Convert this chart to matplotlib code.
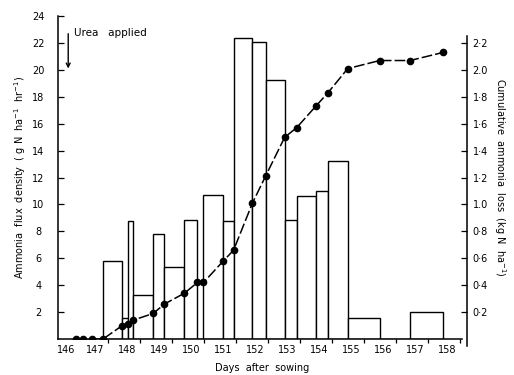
import matplotlib.pyplot as plt
import numpy as np

# sampling times (days after sowing) -- also the bar edges
sample_days = [146.5, 146.72, 147.0, 147.34, 147.94, 148.13, 148.28, 148.91,
               149.26, 149.88, 150.29, 150.48, 151.1, 151.42, 152.01, 152.42,
               153.02, 153.39, 153.99, 154.37, 154.99, 155.99, 156.94, 157.97]
# flux density for each interval between samples (g N ha-1 hr-1)
flux = [0, 0, 0, 5.8, 1.56, 8.8, 3.27, 7.8, 5.35, 8.85, 0, 10.7, 8.77,
        22.4, 22.1, 19.25, 8.85, 10.6, 11.0, 13.25, 1.56, 0, 2.0]
# cumulative loss at each sample (kg N ha-1)
cumulative = [0, 0, 0, 0, 0.10, 0.11, 0.14, 0.19, 0.26, 0.34, 0.42, 0.42,
              0.58, 0.66, 1.01, 1.21, 1.50, 1.57, 1.73, 1.83, 2.01, 2.07,
              2.07, 2.13]

day_labels = list(range(146, 159))
left_ticks = list(range(2, 25, 2))
right_ticks = [0.2, 0.4, 0.6, 0.8, 1.0, 1.2, 1.4, 1.6, 1.8, 2.0, 2.2]
right_labels = ['0·2', '0·4', '0·6', '0·8', '1.0', '1·2', '1·4', '1·6',
                '1·8', '2.0', '2·2']

plt.rcParams['font.family'] = 'DejaVu Sans'
plt.rcParams['font.size'] = 7

fig = plt.figure(figsize=(5.14, 3.75), dpi=100)
ax = fig.add_axes([0.1128, 0.096, 0.7958, 0.861])

edges = np.array(sample_days)
ax.bar(edges[:-1], flux, width=np.diff(edges), align='edge',
       facecolor='white', edgecolor='black', linewidth=1.0, zorder=2)

ax.set_xlim(145.93, 158.72)
ax.set_ylim(0, 24)

# labels sit between the day-boundary ticks
label_pos = [d + 0.1 for d in day_labels]
label_pos[0] = 146.2
ax.set_xticks(label_pos)
ax.set_xticklabels([str(d) for d in day_labels])
ax.set_xticks([d + 0.5 for d in range(147, 159)], minor=True)
ax.tick_params(axis='x', which='major', length=0, pad=4)
ax.tick_params(axis='x', which='minor', length=3, width=0.9, direction='out')

ax.set_yticks(left_ticks)
ax.tick_params(axis='y', direction='in', length=4, width=0.9, pad=14)
for lab in ax.get_yticklabels():
    lab.set_horizontalalignment('center')

ax.spines['top'].set_visible(False)
ax.spines['right'].set_visible(False)
ax.spines['bottom'].set_bounds(145.93, 158.57)
for s in ('left', 'bottom'):
    ax.spines[s].set_linewidth(1.1)

ax.set_xlabel('Days  after  sowing', labelpad=6)
ax.set_ylabel('Ammonia  flux  density  ( g N  ha$^{-1}$  hr$^{-1}$)', labelpad=3)

# cumulative loss on the right axis
ax2 = ax.twinx()
ax2.set_ylim(0, 2.4)
ax2.plot(sample_days, cumulative, color='black', lw=1.1, dashes=(7, 2),
         marker='o', markersize=4.5, zorder=5)
ax2.set_yticks(right_ticks)
ax2.set_yticklabels(right_labels)
ax2.tick_params(axis='y', direction='in', length=4, width=0.9, pad=4)
for s in ('top', 'left', 'bottom'):
    ax2.spines[s].set_visible(False)
ax2.spines['right'].set_bounds(-0.05, 2.25)
ax2.spines['right'].set_linewidth(1.1)
ax2.set_ylabel('Cumulative  ammonia  loss  (kg N  ha$^{-1}$)', rotation=-90,
               labelpad=14)

ax.annotate('', xy=(146.25, 19.9), xytext=(146.25, 22.9),
            arrowprops=dict(arrowstyle='->', color='black', lw=1.0))
ax.text(146.42, 22.75, 'Urea   applied', fontsize=7.5, va='center')

fig.savefig('out.png', dpi=100)
